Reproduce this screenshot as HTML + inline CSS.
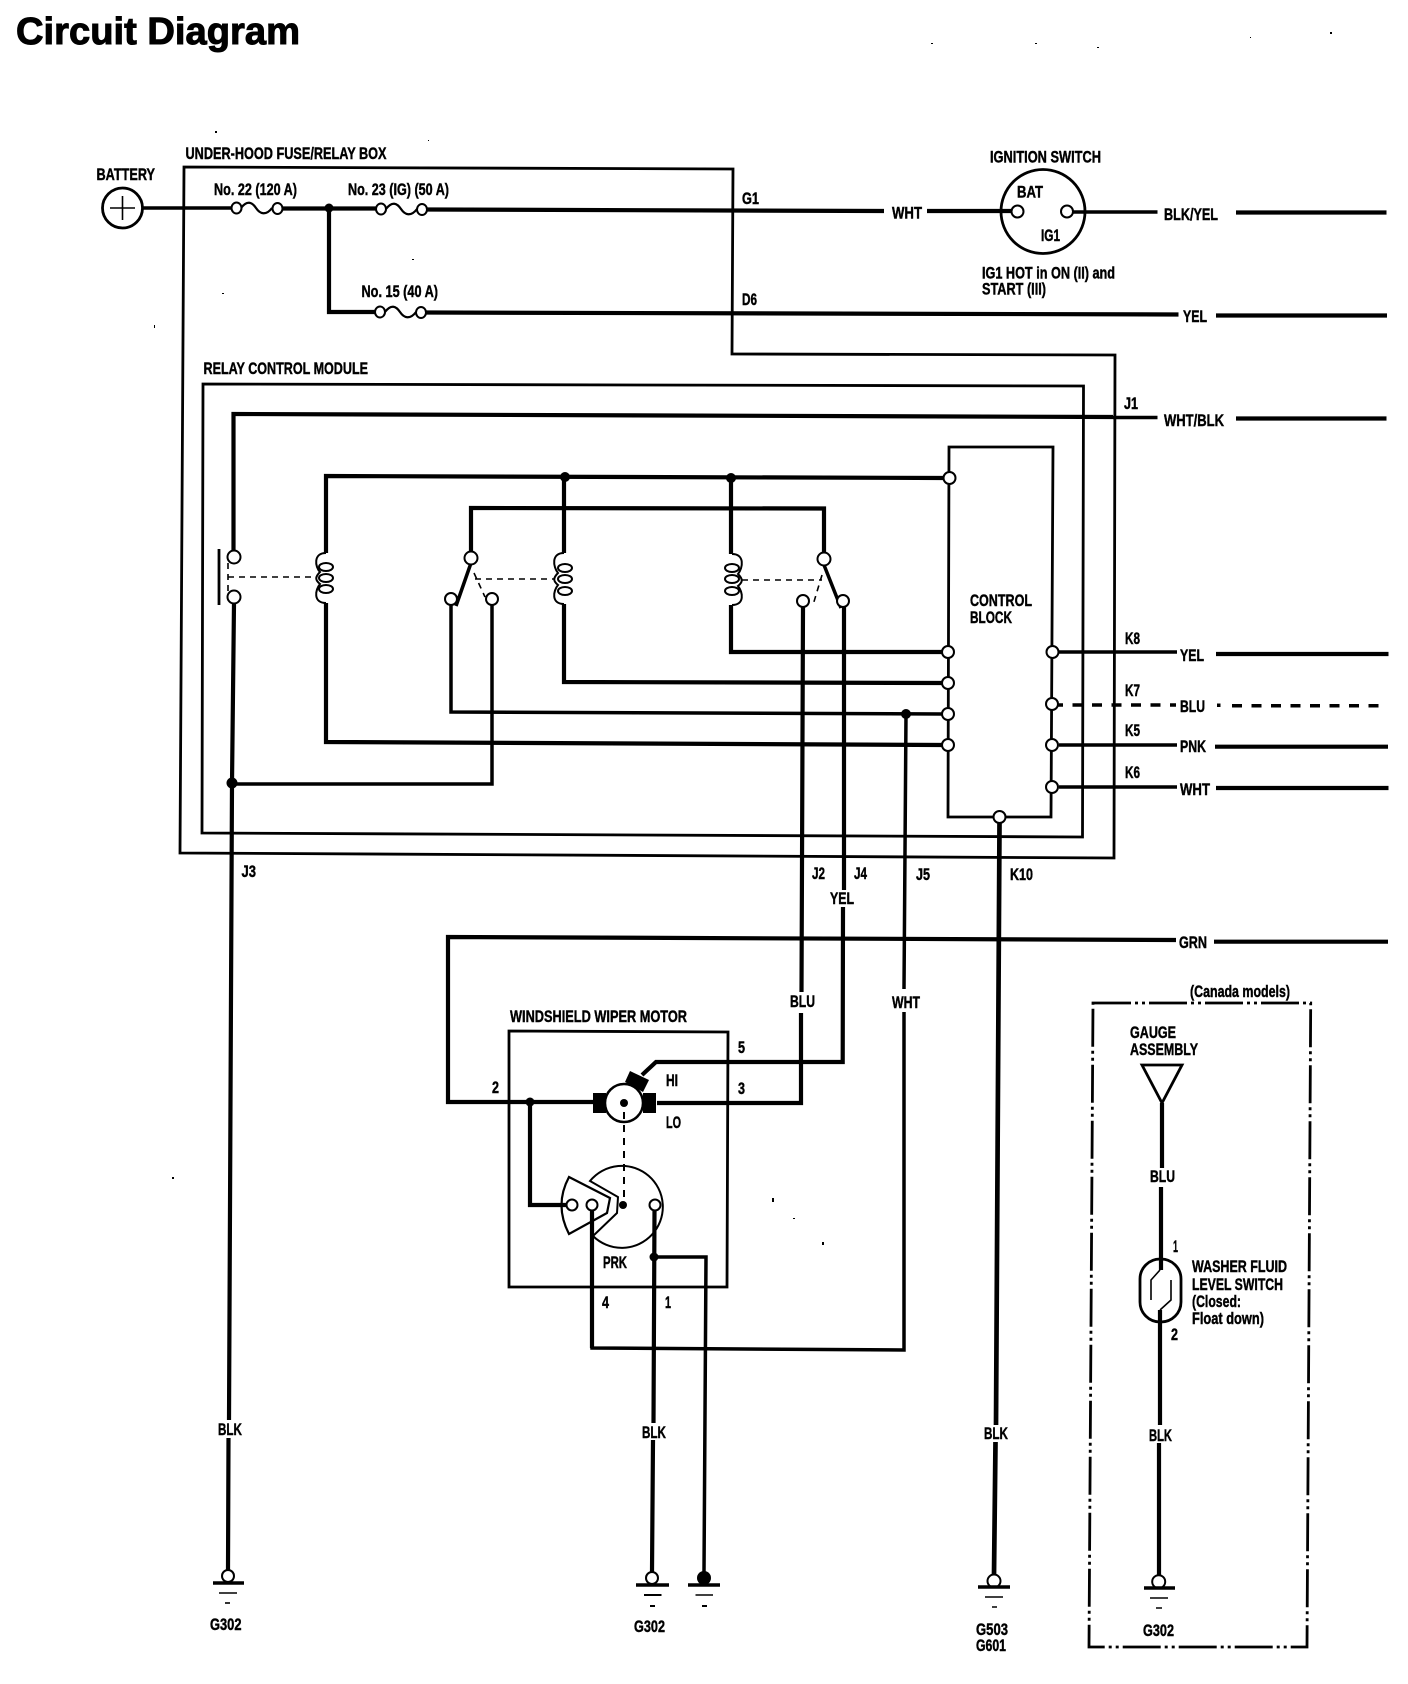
<!DOCTYPE html>
<html><head><meta charset="utf-8"><title>Circuit Diagram</title>
<style>
html,body{margin:0;padding:0;background:#fff}
svg{display:block}
text{font-family:"Liberation Sans",sans-serif;font-weight:bold;font-size:17px;fill:#000;stroke:#000;stroke-width:.45px}
.w{fill:none;stroke:#000;stroke-width:4.2;stroke-linejoin:miter}
.m{fill:none;stroke:#000;stroke-width:3.5}
.b{fill:none;stroke:#000;stroke-width:2.8}
.t{fill:none;stroke:#000;stroke-width:1.6}
.c{fill:#fff;stroke:#000;stroke-width:2}
.d{fill:#000}
</style></head><body>
<svg width="1408" height="1684" viewBox="0 0 1408 1684" xmlns="http://www.w3.org/2000/svg">
<rect width="1408" height="1684" fill="#fff"/>
<text x="16" y="44" style="font-size:38px;stroke-width:1px" textLength="284" lengthAdjust="spacingAndGlyphs">Circuit Diagram</text>

<!-- boxes -->
<path class="b" d="M184 167 L733 169 L732 354 L1115 355 L1114 858 L180 853 Z"/>
<path class="b" d="M203 384 L1083.500 386 L1082.500 837 L202 833 Z"/>
<path class="b" d="M509 1031 L728 1032 L727 1287 L509 1287 Z"/>
<path class="b" d="M949 447 L1053 447 L1051 817 L948 817 Z"/>
<path class="b" style="stroke-dasharray:38 4 3 4 3 4" d="M1093 1003 L1310.700 1003 L1307 1647 L1089 1647 Z"/>

<!-- battery and fuses -->
<ellipse class="b" cx="122.500" cy="208" rx="20" ry="20"/>
<path class="t" d="M110 208H135M122.500 196V220"/>
<path class="m" d="M143 208H231"/>
<path class="w" d="M282 208.500H376"/>
<path class="w" d="M427 209.500L884 211M329 208V312H375M426 312.500L1178.500 314.500"/>
<path class="w" d="M1216 315.500H1387"/>
<path class="w" d="M927 211H1011"/>
<path class="m" d="M1073 212H1157.500"/>
<path class="w" d="M1236 212.500H1386.500"/>
<g class="t" style="stroke-width:2.2">
<path d="M241 208C247 200 252 202 256 208S266 216 272 208"/>
<path d="M386 209C392 201 397 203 401 209S411 217 417 209"/>
<path d="M385 312C391 304 396 306 400 312S410 320 416 312"/>
</g>
<ellipse class="c" cx="236.500" cy="208" rx="5" ry="5.500"/><ellipse class="c" cx="277.500" cy="208.500" rx="5" ry="5.500"/>
<ellipse class="c" cx="381" cy="209" rx="5" ry="5.500"/><ellipse class="c" cx="422" cy="209.500" rx="5" ry="5.500"/>
<ellipse class="c" cx="380" cy="312" rx="5" ry="5.500"/><ellipse class="c" cx="421" cy="312.500" rx="5" ry="5.500"/>
<circle class="d" cx="329" cy="208" r="4.500"/>

<!-- ignition switch -->
<circle class="b" cx="1043" cy="211.500" r="42"/>
<circle class="c" cx="1017.500" cy="211.500" r="6"/><circle class="c" cx="1067" cy="211.500" r="6"/>

<!-- WHT/BLK -->
<path class="w" d="M233.500 551V414L1113 417"/>
<path class="m" d="M1113 417.500H1157.500"/>
<path class="w" d="M1236 418.500H1386.500"/>

<!-- relay wires -->
<path class="w" d="M326 553V476L944 478"/>
<path class="w" d="M326 603V742L943 745"/>
<path class="w" d="M564 477V553M564 604V682L943 683"/>
<path class="w" d="M731 478V554M731 605V652H943"/>
<path class="w" d="M471 552V508L824 508.500V553"/>
<path class="m" d="M451 605V712L943 714"/>
<path class="m" d="M492 605V784H232"/>
<path class="w" d="M803 607L801.500 992M801 1013L801 1103H657"/>
<path class="w" d="M844 607L844 890M843 907L842.700 1062H656L642 1075"/>
<path class="m" d="M906 714L904 989M904 1012L904 1350L592 1348V1211"/>
<path class="w" d="M1059 652H1177" style="stroke-width:3.500"/>
<path class="w" d="M1216 654H1388.500"/>
<path d="M1053 705H1176" style="fill:none;stroke:#000;stroke-width:3.500;stroke-dasharray:10 9.500"/>
<rect class="d" x="1217" y="703.500" width="3.500" height="3.500"/>
<path d="M1232 705.700H1388" style="fill:none;stroke:#000;stroke-width:3.500;stroke-dasharray:10 9.500"/>
<path class="m" d="M1059 745H1177"/>
<path class="w" d="M1215 746.700H1388"/>
<path class="m" d="M1059 787H1177"/>
<path class="w" d="M1216 788H1388.500"/>

<!-- J3 and K10 wires -->
<path class="w" d="M234 603L232 783L229 1420M228.500 1438L228 1570"/>
<path class="w" style="stroke-width:4.700" d="M999.500 823L996 1425M995.500 1442L994 1575"/>
<circle class="d" cx="232" cy="783" r="5.500"/>
<circle class="d" cx="565" cy="477" r="5"/><circle class="d" cx="731" cy="478" r="5"/><circle class="d" cx="906" cy="714" r="5"/>

<!-- relay contact -->
<path class="b" d="M219 549V605"/>
<path class="t" style="stroke-dasharray:6 5" d="M228 563V591M228 577H316"/>
<path class="t" style="stroke-dasharray:6 5" d="M475 579H554M742 580H822M474 573L485 597M822 575L813 605"/>
<circle class="c" cx="234" cy="557" r="6.500"/><circle class="c" cx="234" cy="597" r="6.500"/>
<path class="m" d="M471 563L456 606M824 565L841 608"/>
<circle class="c" cx="471" cy="558" r="6.500"/><circle class="c" cx="451" cy="599" r="6"/><circle class="c" cx="492" cy="599" r="6"/>
<circle class="c" cx="824" cy="559" r="6.500"/><circle class="c" cx="803" cy="601" r="6"/><circle class="c" cx="843" cy="601" r="6"/>

<!-- coils -->
<g class="t" style="stroke-width:2">
<path d="M326 553C313 553 315 567 320 572C315 577 315 580 320 584C315 590 313 603 326 603"/>
<ellipse cx="326" cy="567" rx="7" ry="4"/><ellipse cx="326" cy="578" rx="7" ry="4"/><ellipse cx="326" cy="589" rx="7" ry="4"/>
<path d="M564 553C551 553 553 567 558 573C553 578 553 581 558 585C553 591 551 604 564 604"/>
<ellipse cx="565" cy="568" rx="7" ry="4"/><ellipse cx="565" cy="579" rx="7" ry="4"/><ellipse cx="565" cy="591" rx="7" ry="4"/>
<path d="M732 554C745 554 743 568 738 574C743 579 743 582 738 586C743 592 745 605 732 605"/>
<ellipse cx="732" cy="568" rx="7" ry="4"/><ellipse cx="732" cy="579" rx="7" ry="4"/><ellipse cx="732" cy="591" rx="7" ry="4"/>
</g>

<!-- control block terminals -->
<circle class="c" cx="949.500" cy="478" r="6"/><circle class="c" cx="948" cy="652" r="6"/><circle class="c" cx="948" cy="683" r="6"/><circle class="c" cx="948" cy="714" r="6"/><circle class="c" cx="948" cy="745" r="6"/>
<circle class="c" cx="1052.500" cy="652" r="6"/><circle class="c" cx="1052" cy="704" r="6"/><circle class="c" cx="1052" cy="745" r="6"/><circle class="c" cx="1052" cy="787" r="6"/>
<circle class="c" cx="999.500" cy="817" r="6"/>

<!-- GRN -->
<path class="w" d="M1176 940L448 937V1102H593"/>
<path class="w" d="M1214 941.700H1388"/>

<!-- motor -->
<rect class="d" x="593" y="1093" width="13" height="20"/><rect class="d" x="643" y="1093" width="13" height="20"/>
<polygon class="d" points="630,1071 649,1080 643,1092 625,1082"/>
<circle class="c" cx="624" cy="1103" r="19" style="stroke-width:2.500"/>
<circle class="d" cx="624" cy="1103" r="4"/>
<path class="t" style="stroke-width:2;stroke-dasharray:7 6" d="M624 1112V1205"/>
<path class="t" style="stroke-width:2" d="M590 1181A41 41 0 1 1 593 1236L617 1213L618 1197Z"/>
<path class="t" style="stroke-width:2.200;fill:#fff" d="M569 1177L610 1198L607 1213L569 1234Q554 1205 569 1177Z"/>
<circle class="d" cx="623" cy="1205" r="4"/>
<path class="w" d="M530 1102V1205H567"/>
<circle class="d" cx="530" cy="1102" r="4.500"/>
<path class="w" d="M592 1211V1348"/>
<path class="w" d="M654.500 1211L653.500 1423M653 1440L652 1572"/>
<path class="m" d="M654 1257H706L704 1572"/>
<circle class="d" cx="654" cy="1257" r="4.500"/>
<circle class="c" cx="572" cy="1205" r="5.500"/><circle class="c" cx="592" cy="1205" r="5.500"/><circle class="c" cx="655" cy="1205" r="5.500"/>

<!-- grounds -->
<g>
<circle class="c" cx="228" cy="1576" r="6"/><path class="m" d="M213 1583H244"/><path class="t" d="M219 1593H237"/><path class="t" d="M225 1603H230"/>
<circle class="c" cx="652" cy="1578" r="6"/><path class="m" d="M636 1585H669"/><path class="m" style="stroke-width:2" d="M644 1595H661.500M650 1606H655"/>
<circle class="d" cx="704" cy="1578" r="7"/><path class="m" d="M688 1585H720"/><path class="t" d="M695.500 1595H713"/><path class="m" style="stroke-width:2" d="M702 1606H707"/>
<circle class="c" cx="994" cy="1581" r="6.500"/><path class="m" d="M978 1587H1010"/><path class="t" d="M985 1597H1003M992 1607H997"/>
<circle class="c" cx="1158.700" cy="1581.700" r="6.500"/><path class="m" d="M1144 1588H1175"/><path class="t" d="M1150 1598H1168M1156 1608H1162"/>
</g>

<!-- gauge / washer -->
<polygon class="b" style="fill:#fff" points="1142,1065 1182,1065 1162,1103"/>
<path class="w" d="M1162 1103V1168M1161 1187V1270"/>
<path class="w" d="M1160 1310V1425M1159 1443V1576"/>
<rect class="b" x="1140" y="1259" width="41" height="63" rx="20" ry="20"/>
<path class="t" d="M1160 1270L1151 1280V1300M1171 1280V1300L1160 1310"/>

<!-- labels -->
<g>
<text x="185.500" y="159" textLength="201" lengthAdjust="spacingAndGlyphs">UNDER-HOOD FUSE/RELAY BOX</text>
<text x="96.500" y="180" textLength="58.500" lengthAdjust="spacingAndGlyphs">BATTERY</text>
<text x="214" y="195" textLength="83" lengthAdjust="spacingAndGlyphs">No. 22 (120 A)</text>
<text x="348" y="195" textLength="101" lengthAdjust="spacingAndGlyphs">No. 23 (IG) (50 A)</text>
<text x="361.500" y="297" textLength="76.500" lengthAdjust="spacingAndGlyphs">No. 15 (40 A)</text>
<text x="203.500" y="374" textLength="164.500" lengthAdjust="spacingAndGlyphs">RELAY CONTROL MODULE</text>
<text x="742" y="204" textLength="17" lengthAdjust="spacingAndGlyphs">G1</text>
<text x="742" y="305" textLength="15" lengthAdjust="spacingAndGlyphs">D6</text>
<text x="892" y="218.500" textLength="30" lengthAdjust="spacingAndGlyphs">WHT</text>
<text x="990" y="162.500" textLength="111" lengthAdjust="spacingAndGlyphs">IGNITION SWITCH</text>
<text x="1017" y="197.500" textLength="26" lengthAdjust="spacingAndGlyphs">BAT</text>
<text x="1041" y="241" textLength="19" lengthAdjust="spacingAndGlyphs">IG1</text>
<text x="1164" y="220" textLength="54" lengthAdjust="spacingAndGlyphs">BLK/YEL</text>
<text x="982" y="278.500" textLength="133" lengthAdjust="spacingAndGlyphs">IG1 HOT in ON (II) and</text>
<text x="982" y="294.500" textLength="64" lengthAdjust="spacingAndGlyphs">START (III)</text>
<text x="1183" y="322" textLength="24" lengthAdjust="spacingAndGlyphs">YEL</text>
<text x="1124" y="409" textLength="14" lengthAdjust="spacingAndGlyphs">J1</text>
<text x="1164" y="426" textLength="60" lengthAdjust="spacingAndGlyphs">WHT/BLK</text>
<text x="970" y="606" textLength="62" lengthAdjust="spacingAndGlyphs">CONTROL</text>
<text x="970" y="623" textLength="42" lengthAdjust="spacingAndGlyphs">BLOCK</text>
<text x="1125" y="644" textLength="15" lengthAdjust="spacingAndGlyphs">K8</text>
<text x="1125" y="696" textLength="15" lengthAdjust="spacingAndGlyphs">K7</text>
<text x="1125" y="736" textLength="15" lengthAdjust="spacingAndGlyphs">K5</text>
<text x="1125" y="778" textLength="15" lengthAdjust="spacingAndGlyphs">K6</text>
<text x="1180" y="661" textLength="24" lengthAdjust="spacingAndGlyphs">YEL</text>
<text x="1180" y="712" textLength="25" lengthAdjust="spacingAndGlyphs">BLU</text>
<text x="1180" y="752" textLength="26" lengthAdjust="spacingAndGlyphs">PNK</text>
<text x="1180" y="795" textLength="30" lengthAdjust="spacingAndGlyphs">WHT</text>
<text x="1179" y="948" textLength="28" lengthAdjust="spacingAndGlyphs">GRN</text>
<text x="241.500" y="877" textLength="14.500" lengthAdjust="spacingAndGlyphs">J3</text>
<text x="812" y="879" textLength="13" lengthAdjust="spacingAndGlyphs">J2</text>
<text x="854" y="879" textLength="13" lengthAdjust="spacingAndGlyphs">J4</text>
<text x="916" y="880" textLength="14" lengthAdjust="spacingAndGlyphs">J5</text>
<text x="1010" y="880" textLength="23" lengthAdjust="spacingAndGlyphs">K10</text>
<text x="830" y="904" textLength="24" lengthAdjust="spacingAndGlyphs">YEL</text>
<text x="790" y="1007" textLength="25" lengthAdjust="spacingAndGlyphs">BLU</text>
<text x="892" y="1008" textLength="28" lengthAdjust="spacingAndGlyphs">WHT</text>
<text x="510" y="1022" textLength="177" lengthAdjust="spacingAndGlyphs">WINDSHIELD WIPER MOTOR</text>
<text x="738" y="1053" textLength="7" lengthAdjust="spacingAndGlyphs">5</text>
<text x="738" y="1094" textLength="7" lengthAdjust="spacingAndGlyphs">3</text>
<text x="492" y="1093" textLength="7" lengthAdjust="spacingAndGlyphs">2</text>
<text x="666" y="1086" textLength="12" lengthAdjust="spacingAndGlyphs">HI</text>
<text x="666" y="1128" textLength="15" lengthAdjust="spacingAndGlyphs">LO</text>
<text x="603" y="1268" textLength="24" lengthAdjust="spacingAndGlyphs">PRK</text>
<text x="602" y="1308" textLength="7" lengthAdjust="spacingAndGlyphs">4</text>
<text x="665" y="1308" textLength="6" lengthAdjust="spacingAndGlyphs">1</text>
<text x="1190" y="997" textLength="100" lengthAdjust="spacingAndGlyphs">(Canada models)</text>
<text x="1130" y="1038" textLength="46" lengthAdjust="spacingAndGlyphs">GAUGE</text>
<text x="1130" y="1055" textLength="68" lengthAdjust="spacingAndGlyphs">ASSEMBLY</text>
<text x="1150" y="1182" textLength="25" lengthAdjust="spacingAndGlyphs">BLU</text>
<text x="1173" y="1252" textLength="5" lengthAdjust="spacingAndGlyphs">1</text>
<text x="1171" y="1340" textLength="7" lengthAdjust="spacingAndGlyphs">2</text>
<text x="1192" y="1272" textLength="95" lengthAdjust="spacingAndGlyphs">WASHER FLUID</text>
<text x="1192" y="1290" textLength="91" lengthAdjust="spacingAndGlyphs">LEVEL SWITCH</text>
<text x="1192" y="1307" textLength="49" lengthAdjust="spacingAndGlyphs">(Closed:</text>
<text x="1192" y="1324" textLength="72" lengthAdjust="spacingAndGlyphs">Float down)</text>
<text x="218" y="1435" textLength="24" lengthAdjust="spacingAndGlyphs">BLK</text>
<text x="642" y="1438" textLength="24" lengthAdjust="spacingAndGlyphs">BLK</text>
<text x="984" y="1439" textLength="24" lengthAdjust="spacingAndGlyphs">BLK</text>
<text x="1149" y="1441" textLength="23" lengthAdjust="spacingAndGlyphs">BLK</text>
<text x="210" y="1630" textLength="31.500" lengthAdjust="spacingAndGlyphs">G302</text>
<text x="634" y="1632" textLength="31" lengthAdjust="spacingAndGlyphs">G302</text>
<text x="976" y="1635" textLength="32" lengthAdjust="spacingAndGlyphs">G503</text>
<text x="976" y="1651" textLength="30" lengthAdjust="spacingAndGlyphs">G601</text>
<text x="1143" y="1636" textLength="31" lengthAdjust="spacingAndGlyphs">G302</text>
</g>

<!-- specks -->
<g class="d">
<rect x="215" y="131" width="2" height="2"/><rect x="428" y="140" width="1" height="1"/><rect x="931" y="43" width="2" height="1"/><rect x="1035" y="43" width="2" height="1"/><rect x="1097" y="47" width="2" height="1"/><rect x="1250" y="37" width="1" height="1"/><rect x="1330" y="32" width="2" height="2"/>
<rect x="154" y="325" width="1" height="3"/><rect x="222" y="293" width="2" height="1"/><rect x="412" y="259" width="2" height="1"/>
<rect x="772" y="1198" width="2" height="4"/><rect x="793" y="1218" width="2" height="1"/><rect x="822" y="1242" width="2" height="3"/><rect x="172" y="1177" width="2" height="2"/>
</g>
</svg>
</body></html>
